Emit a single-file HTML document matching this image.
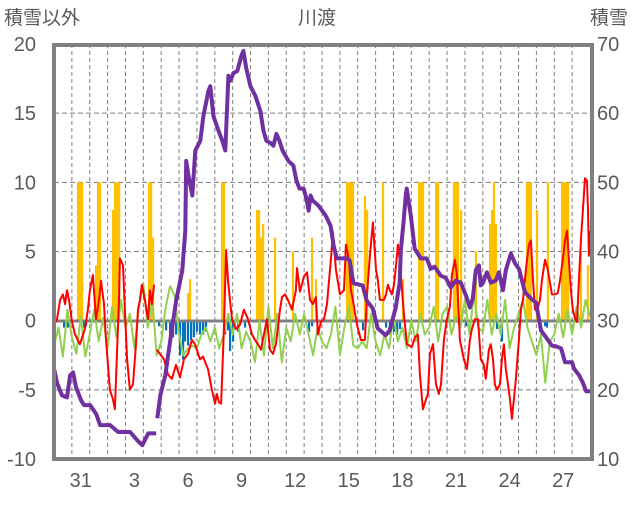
<!DOCTYPE html>
<html><head><meta charset="utf-8"><style>
html,body{margin:0;padding:0;background:#fff;}
svg text{font-family:"Liberation Sans","Noto Sans CJK JP",sans-serif;fill:#595959;}
</style></head><body>
<svg id="chart" width="636" height="501" viewBox="0 0 636 501" xmlns="http://www.w3.org/2000/svg">
<g id="grid"></g>
<g id="bars"></g>
<line x1="54" y1="321" x2="592" y2="321" stroke="#808080" stroke-width="3"/>
<g id="lines"></g>
<rect x="54" y="45" width="538" height="414" fill="none" stroke="#808080" stroke-width="4"/>
<g id="labels"></g>
<text x="4" y="24" font-size="19">積雪以外</text>
<text x="317" y="24" font-size="19" text-anchor="middle">川渡</text>
<text x="590" y="24" font-size="19">積雪</text>
</svg>
<script>
const leftTicks=[-10,-5,0,5,10,15,20];
const rightTicks=[10,20,30,40,50,60,70];
const dayLabels=["31","3","6","9","12","15","18","21","24","27"];
const dayLabelPos=[1,4,7,10,13,16,19,22,25,28];
const purpleT=[0,.17,.45,.73,.9,1.07,1.23,1.51,1.68,2.02,2.36,2.58,3.14,3.59,4.26,4.66,4.94,5.27,5.72,null,5.78,5.95,6.23,6.51,6.84,7.18,7.35,7.4,7.52,7.74,7.91,8.19,8.36,8.64,8.75,8.92,9.2,9.42,9.59,9.76,9.87,10.04,10.26,10.49,10.6,10.77,10.99,11.27,11.55,11.72,11.89,12.11,12.28,12.45,12.62,12.79,13.12,13.4,13.57,13.74,13.97,14.13,14.25,14.36,14.47,14.81,15.2,15.48,15.65,15.82,16.38,16.55,16.66,16.77,17.27,17.5,17.84,18.12,18.56,18.79,19.12,19.35,19.41,19.57,19.69,19.74,19.97,20.19,20.53,20.86,21.09,21.31,21.65,21.93,22.21,22.49,22.77,23.05,23.28,23.44,23.61,23.78,23.89,24.0,24.23,24.45,24.73,24.9,25.13,25.29,25.57,25.8,26.02,26.36,26.7,26.98,27.26,27.54,27.87,28.1,28.38,28.6,29.0,29.1,29.39,29.61,29.78,30.0];
const purpleV=[23.1,21.0,19.2,18.9,22.1,22.5,20.4,18.5,17.8,17.8,16.5,14.9,14.9,13.9,13.9,12.7,12.0,13.7,13.7,null,15.9,19.2,22.1,27.2,32.9,37.3,43.0,53.1,51.0,48.1,54.6,56.0,59.6,63.2,63.9,59.6,57.5,56.0,54.6,65.4,64.7,65.8,66.1,68.3,69.0,66.4,63.9,62.5,60.3,57.5,56.0,55.7,55.3,57.0,56.0,54.6,53.1,52.4,50.2,49.1,49.1,47.6,45.9,48.1,47.4,46.6,45.2,43.7,40.9,39.0,39.0,38.7,36.8,35.4,35.1,32.9,31.8,28.9,27.9,28.6,31.8,35.5,40.1,44.5,48.2,49.1,45.2,40.4,39.0,39.0,37.5,37.8,36.5,36.2,34.8,35.8,35.5,33.7,31.9,33.2,37.3,38.0,35.1,35.4,37.0,35.5,35.8,37.0,34.4,37.3,39.7,38.3,37.5,34.1,33.2,32.6,28.6,27.6,26.4,26.3,26.0,24.0,24.0,23.1,22.1,21.0,19.8,19.8];
const redT=[0,.17,.34,.5,.62,.73,.84,1.01,1.18,1.45,1.73,1.9,2.01,2.18,2.35,2.52,2.63,2.8,2.91,3.02,3.13,3.3,3.41,3.53,3.64,3.69,3.86,3.97,4.09,4.25,4.42,4.59,4.7,4.81,4.92,5.09,5.26,5.37,5.48,5.6,null,5.76,5.93,6.16,6.38,6.6,6.83,7.05,7.27,7.5,7.72,7.89,8.17,8.34,8.62,8.84,9.01,9.12,9.23,9.35,9.51,9.63,9.74,9.96,10.18,10.41,10.63,10.86,11.08,11.25,11.42,11.58,11.75,11.92,12.09,12.26,12.42,12.65,12.76,12.93,13.09,13.32,13.54,13.6,13.77,13.99,14.16,14.33,14.49,14.66,14.77,14.94,15.11,15.28,15.39,15.5,15.61,15.78,16.0,16.23,16.34,16.51,16.62,16.73,16.96,17.18,17.4,17.52,17.68,17.85,18.02,18.13,18.24,18.47,18.58,18.69,18.8,18.91,19.03,19.14,19.25,19.36,19.59,19.75,20.03,20.2,20.37,20.48,20.65,20.82,20.93,21.04,21.21,21.38,21.54,21.66,21.82,21.99,22.16,22.27,22.44,22.55,22.72,22.94,23.11,23.28,23.39,23.56,23.73,23.89,24.06,24.17,24.34,24.45,24.57,24.68,24.79,24.96,25.07,25.18,25.29,25.41,25.52,25.63,25.74,25.85,26.02,26.13,26.25,26.41,26.58,26.69,26.81,26.92,27.08,27.2,27.31,27.48,27.64,27.87,28.04,28.2,28.32,28.48,28.6,28.71,28.82,28.93,29.04,29.16,29.27,29.38,29.49,29.6,29.72,29.83,29.89,29.94,30.0];
const redV=[-0.3,0.1,1.5,1.9,1.2,2.2,1.5,-0.1,-1.0,-1.7,-0.6,0.8,2.2,3.3,0.1,1.5,2.9,1.2,-1.4,-3.2,-5.0,-5.7,-6.4,-2.1,1.5,4.5,4.0,0.8,-2.8,-5.0,-4.6,-1.7,0.8,1.5,2.6,1.5,0.1,2.2,1.2,2.6,null,-2.1,-2.4,-2.8,-3.9,-4.2,-3.2,-4.1,-2.8,-2.4,-1.4,-1.7,-2.8,-2.6,-3.5,-5.0,-6.0,-5.3,-5.9,-6.0,-0.6,5.1,2.9,0.1,-0.6,-0.3,0.8,0.1,-1.0,-1.4,-1.7,-2.1,-1.0,0.1,-2.1,-2.4,-1.7,0.8,1.7,1.9,1.5,0.8,2.2,3.8,2.1,3.2,3.5,1.5,1.2,1.7,-1.0,-0.1,0.1,1.2,2.9,4.4,6.4,3.7,1.9,2.2,5.5,4.4,2.2,1.5,-0.3,-1.4,-1.4,1.9,4.7,7.1,3.7,2.9,1.5,1.5,1.9,2.6,2.2,1.9,2.6,4.0,5.5,4.2,0.4,-1.7,-1.9,-1.2,-1.0,-3.9,-6.4,-5.7,-5.3,-2.4,-1.7,-4.6,-5.3,-4.6,-1.4,0.1,1.0,3.3,4.4,3.3,-1.4,-2.8,-3.5,-1.4,-0.6,0.1,0.1,-2.8,-3.2,-4.2,-2.1,-1.7,-2.8,-4.6,-5.0,-4.6,-2.8,-1.7,-3.5,-4.6,-5.7,-7.1,-5.7,-4.2,-1.4,0.8,1.5,3.7,5.5,5.8,2.9,0.8,0.9,1.5,2.9,4.4,3.7,1.9,1.9,2.0,2.9,4.4,5.8,6.5,4.4,2.2,0.8,0.2,-0.1,2.9,5.8,8.0,10.3,10.1,8.0,4.7,6.5];
const greenV=[-1.8,-0.5,-2.6,0.8,-1.2,-2.4,0.3,-2.6,-1.0,0.8,-1.5,0.2,-2.0,1.0,-1.2,1.5,-0.5,0.5,-2.0,1.0,2.7,-0.5,1.5,-2.5,-1.5,1.0,2.5,1.8,-1.0,-2.5,-2.0,-1.8,-2.0,-1.0,-0.5,-1.5,-0.5,-2.0,-1.0,0.5,-1.0,0.5,-2.0,-0.8,-1.5,-3.0,0.0,-2.5,1.0,-2.0,0.5,-3.0,-0.5,-1.5,0.5,-1.0,0.5,-1.0,-2.5,-0.5,-1.5,-2.0,-1.0,1.0,-2.5,-0.5,1.0,-1.8,-2.0,-1.5,-2.0,0.5,-1.5,-2.5,-1.0,-2.0,0.3,-1.5,-0.5,-2.0,0.0,-1.5,0.5,-1.0,-0.5,1.0,-1.5,0.5,1.0,-1.0,0.3,-0.5,1.5,-1.0,2.0,-0.5,-0.8,1.5,-1.0,0.5,-1.0,1.5,-2.0,-0.5,0.5,1.5,-0.5,-1.5,-2.5,-1.0,-4.5,-1.5,-1.0,0.5,-1.2,0.8,-1.0,1.0,-0.5,1.5,0.3];
const yellowT=[1.34,1.45,1.57,2.35,2.46,2.57,3.3,3.41,3.53,3.64,5.32,5.37,5.43,5.54,7.5,7.61,9.4,9.51,11.36,11.47,11.58,11.7,12.37,13.37,14.44,14.66,16.4,16.51,16.62,16.73,17.4,17.52,18.41,19.53,20.43,20.54,20.65,21.38,21.49,22.38,22.5,22.61,22.78,23.61,24.4,24.51,24.62,24.73,26.47,26.58,26.69,27.03,27.64,28.43,28.54,28.65,28.77,29.49,29.88];
const yellowV=[10,10,10,4,10,10,8,10,10,10,10,8,10,6,2,3,10,10,8,8,6,7,6,5,6,3,10,10,10,10,9,8,10,3,10,10,10,10,10,10,10,10,8,5,7,8,10,7,10,10,10,8,10,10,10,10,10,5,4];
const blueT=[0.56,0.78,1.68,1.79,5.88,6.27,6.49,6.66,6.83,7.05,7.22,7.33,7.5,7.67,7.83,8.0,8.17,8.34,8.5,9.57,9.74,9.85,10.02,10.3,10.69,14.27,14.44,17.29,18.58,18.8,19.03,19.2,19.36,23.06,24.79,25.07,27.48,27.59];
const blueV=[-0.5,-0.5,-0.5,-0.4,-0.4,-0.7,-1.5,-1.2,-1.0,-2.5,-2.8,-1.5,-1.8,-1.4,-1.2,-0.8,-1.0,-1.0,-0.8,-1.0,-0.7,-2.2,-1.5,-0.8,-0.5,-0.8,-0.4,-0.7,-0.5,-1.0,-0.8,-1.0,-0.6,-0.4,-0.6,-1.5,-0.4,-0.5];

const NS="http://www.w3.org/2000/svg";
const X0=54,X1=590,DAYS=30,YT=44,YB=459;
const xs=t=>X0+(X1-X0)*t/DAYS;
const yl=v=>YB-(v+10)/30*(YB-YT);
const yr=v=>YB-(v-10)/60*(YB-YT);
function mk(tag,attrs,parent){const e=document.createElementNS(NS,tag);for(const k in attrs)e.setAttribute(k,attrs[k]);parent.appendChild(e);return e;}
const grid=document.getElementById('grid'),bars=document.getElementById('bars'),lines=document.getElementById('lines'),labels=document.getElementById('labels');
for(let d=1;d<DAYS;d++){const e=mk('line',{x1:xs(d),x2:xs(d),y1:YT,y2:YB,stroke:'#7f7f7f','stroke-width':1,'stroke-dasharray':'4 3'},grid);

}
leftTicks.forEach(v=>{if(v>-10&&v<20){const e=mk('line',{x1:X0,x2:X1,y1:yl(v),y2:yl(v),stroke:'#7f7f7f','stroke-width':1,'stroke-dasharray':'5 3'},grid);

}
const t=mk('text',{x:36,y:yl(v)+7,'font-size':20,'text-anchor':'end'},labels);t.textContent=v;

});
rightTicks.forEach(v=>{const t=mk('text',{x:597,y:yr(v)+7,'font-size':20},labels);t.textContent=v;

});
dayLabels.forEach((s,i)=>{const t=mk('text',{x:xs(dayLabelPos[i]+0.5),y:487,'font-size':20,'text-anchor':'middle'},labels);t.textContent=s;

});
yellowT.forEach((t,i)=>{const e=mk('rect',{x:xs(t)-1,y:yl(yellowV[i]),width:2.2,height:yl(0)-yl(yellowV[i]),fill:'#FFC000'},bars);

});
blueT.forEach((t,i)=>{const e=mk('rect',{x:xs(t)-1,y:yl(0),width:2.2,height:yl(blueV[i])-yl(0),fill:'#0070C0'},bars);

});
function path(T,V,sc){let d='',pen=false;for(let i=0;i<V.length;i++){if(V[i]===null||T[i]===null){pen=false;continue;}d+=(pen?'L':'M')+xs(T[i]).toFixed(1)+' '+sc(V[i]).toFixed(1);pen=true;}return d;}
const greenT=greenV.map((v,i)=>i*0.25);
const g=mk('path',{d:path(greenT,greenV,yl),fill:'none',stroke:'#92D050','stroke-width':2,'stroke-linejoin':'round'},lines);


const r=mk('path',{d:path(redT,redV,yl),fill:'none',stroke:'#FF0000','stroke-width':2,'stroke-linejoin':'round'},lines);


const p=mk('path',{d:path(purpleT,purpleV,yr),fill:'none',stroke:'#7030A0','stroke-width':4,'stroke-linejoin':'round'},lines);


</script>
</body></html>
